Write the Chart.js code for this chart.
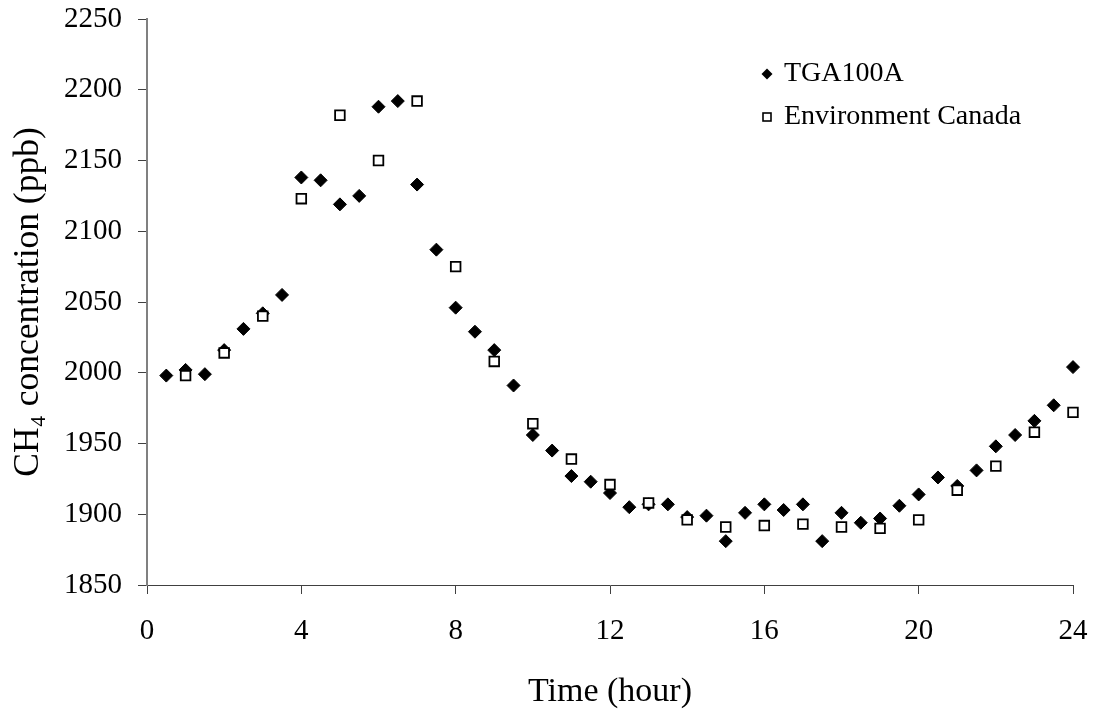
<!DOCTYPE html>
<html>
<head>
<meta charset="utf-8">
<script src="https://cdn.jsdelivr.net/npm/chart.js@4/dist/chart.umd.min.js"></script>
<style>
  html, body { margin: 0; padding: 0; background: #fff; }
  #wrap { width: 1094px; height: 711px; }
</style>
</head>
<body>
<div id="wrap"><canvas id="chart" width="1094" height="711"></canvas></div>
<script>
// TGA100A, every half hour
const tgaHours = [0.5, 1, 1.5, 2, 2.5, 3, 3.5, 4, 4.5, 5, 5.5, 6, 6.5, 7, 7.5, 8,
  8.5, 9, 9.5, 10, 10.5, 11, 11.5, 12, 12.5, 13, 13.5, 14, 14.5, 15, 15.5, 16,
  16.5, 17, 17.5, 18, 18.5, 19, 19.5, 20, 20.5, 21, 21.5, 22, 22.5, 23, 23.5, 24];
const tgaValues = [1998, 2002, 1999, 2016, 2031, 2042, 2055, 2138, 2136, 2119, 2125, 2188, 2192, 2133, 2087, 2046,
  2029, 2016, 1991, 1956, 1945, 1927, 1923, 1915, 1905, 1907, 1907, 1898, 1899, 1881, 1901, 1907,
  1903, 1907, 1881, 1901, 1894, 1897, 1906, 1914, 1926, 1920, 1931, 1948, 1956, 1966, 1977, 2004];

// Environment Canada, hourly
const ecHours = [1, 2, 3, 4, 5, 6, 7, 8, 9, 10, 11, 12, 13, 14, 15, 16, 17, 18, 19, 20, 21, 22, 23, 24];
const ecValues = [1998, 2014, 2040, 2123, 2182, 2150, 2192, 2075, 2008, 1964, 1939, 1921,
  1908, 1896, 1891, 1892, 1893, 1891, 1890, 1896, 1917, 1934, 1958, 1972];

const seriesNames = ['TGA100A', 'Environment Canada'];
const xTicks = [0, 4, 8, 12, 16, 20, 24];
const yTicks = [1850, 1900, 1950, 2000, 2050, 2100, 2150, 2200, 2250];

const serif = "'Liberation Serif', 'Times New Roman', serif";

function toPoints(xs, ys) {
  return xs.map((x, i) => ({ x: x, y: ys[i] }));
}

function noScalePadding(s) {
  s.paddingTop = 0;
  s.paddingBottom = 0;
  s.paddingLeft = 0;
  s.paddingRight = 0;
}

// legend drawn in the upper right of the plot
const legendBox = {
  id: 'legendBox',
  afterDraw(chart) {
    const ctx = chart.ctx;
    ctx.save();
    const mx = 767, tx = 784;
    const rows = [74, 117];
    // diamond
    ctx.fillStyle = '#000';
    ctx.beginPath();
    ctx.moveTo(mx, rows[0] - 5.5);
    ctx.lineTo(mx + 5.5, rows[0]);
    ctx.lineTo(mx, rows[0] + 5.5);
    ctx.lineTo(mx - 5.5, rows[0]);
    ctx.closePath();
    ctx.fill();
    // open square
    ctx.fillStyle = '#fff';
    ctx.strokeStyle = '#000';
    ctx.lineWidth = 1.6;
    ctx.fillRect(mx - 4, rows[1] - 4, 8, 8);
    ctx.strokeRect(mx - 4, rows[1] - 4, 8, 8);

    ctx.fillStyle = '#000';
    ctx.font = '28px ' + serif;
    ctx.textAlign = 'left';
    ctx.textBaseline = 'middle';
    ctx.fillText(seriesNames[0], tx, rows[0]);
    ctx.fillText(seriesNames[1], tx, rows[1]);
    ctx.restore();
  }
};

new Chart(document.getElementById('chart'), {
  type: 'scatter',
  data: {
    datasets: [
      {
        label: seriesNames[0],
        data: toPoints(tgaHours, tgaValues),
        pointStyle: 'rectRot',
        pointRadius: 6.5,
        backgroundColor: '#000',
        borderColor: '#000',
        borderWidth: 1,
        clip: false,
        order: 2
      },
      {
        label: seriesNames[1],
        data: toPoints(ecHours, ecValues),
        pointStyle: 'rect',
        pointRadius: 6.8,
        backgroundColor: '#fff',
        borderColor: '#000',
        borderWidth: 1.8,
        clip: false,
        order: 1
      }
    ]
  },
  options: {
    responsive: false,
    animation: false,
    layout: { autoPadding: false, padding: { top: 19, right: 21, left: 0, bottom: 0 } },
    plugins: {
      legend: { display: false },
      tooltip: { enabled: false }
    },
    scales: {
      x: {
        type: 'linear',
        min: 0,
        max: 24,
        afterBuildTicks: (s) => { s.ticks = xTicks.map(v => ({ value: v })); },
        afterFit: (s) => { s.height = 126; noScalePadding(s); },
        grid: { drawOnChartArea: false, drawTicks: true, tickLength: 9, tickColor: '#404040' },
        border: { display: true, color: '#404040', width: 1 },
        ticks: { color: '#000', font: { family: serif, size: 29 }, padding: 20, maxRotation: 0,
          callback: (v) => String(v) },
        title: {
          display: true,
          text: 'Time (hour)',
          color: '#000',
          font: { family: serif, size: 34, lineHeight: 1 },
          padding: { top: 0, bottom: 2 }
        }
      },
      y: {
        min: 1850,
        max: 2250,
        afterBuildTicks: (s) => { s.ticks = yTicks.map(v => ({ value: v })); },
        afterFit: (s) => { s.width = 147; noScalePadding(s); },
        grid: { drawOnChartArea: false, drawTicks: true, tickLength: 9, tickColor: '#404040' },
        border: { display: true, color: '#808080', width: 2 },
        ticks: { color: '#000', font: { family: serif, size: 29 }, padding: 16,
          callback: (v) => String(v) },
        title: {
          display: true,
          text: 'CH\u2084 concentration (ppb)',
          color: '#000',
          font: { family: serif, size: 35.5, lineHeight: 1 },
          padding: { top: 11, bottom: 0 }
        }
      }
    }
  },
  plugins: [legendBox]
});
</script>
</body>
</html>
